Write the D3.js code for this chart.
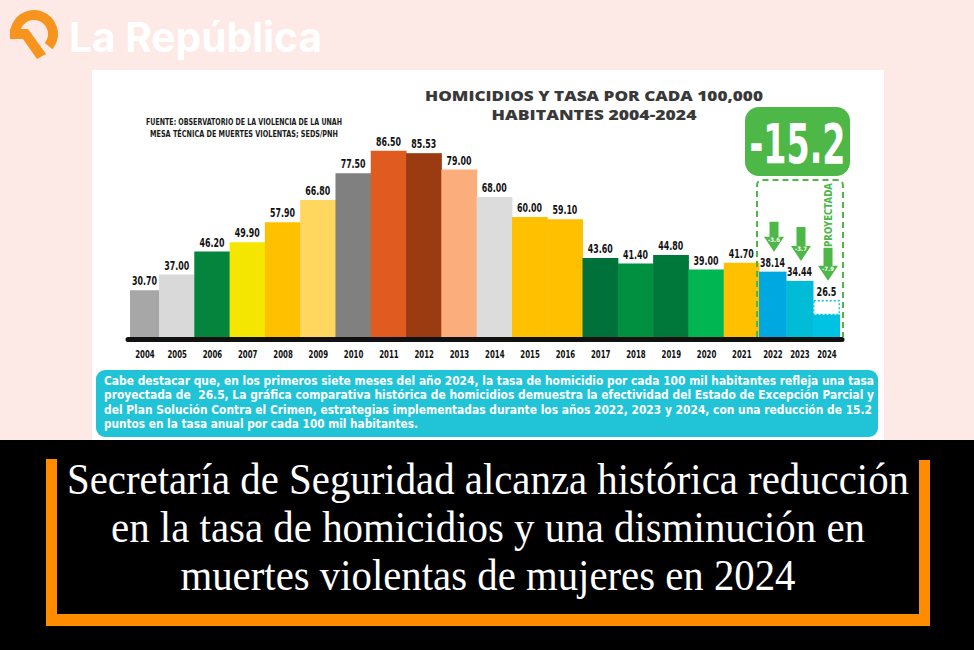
<!DOCTYPE html>
<html>
<head>
<meta charset="utf-8">
<script src="https://cdn.jsdelivr.net/npm/d3@7"></script>
<style>
  html, body { margin: 0; padding: 0; background: #000; }
  svg { display: block; }
  text.note { white-space: pre; }
</style>
</head>
<body>
<svg id="chart" width="974" height="650"></svg>
<script>
// ---------------- DATA ----------------
const years = ["2004","2005","2006","2007","2008","2009","2010","2011","2012","2013","2014","2015","2016","2017","2018","2019","2020","2021","2022","2023","2024"];
const rates = [30.70, 37.00, 46.20, 49.90, 57.90, 66.80, 77.50, 86.50, 85.53, 79.00, 68.00, 60.00, 59.10, 43.60, 41.40, 44.80, 39.00, 41.70, 38.14, 34.44, 26.5];
const rateLabels = ["30.70","37.00","46.20","49.90","57.90","66.80","77.50","86.50","85.53","79.00","68.00","60.00","59.10","43.60","41.40","44.80","39.00","41.70","38.14","34.44","26.5"];
const projectedYear = "2024";
const partialProjected = 21.0;
const dropYears = ["2022","2023","2024"];
const dropLabels = ["-3.6","-3.7","-7.9"];
const totalDrop = "-15.2";
const projectedText = "PROYECTADA";

const titleLines = ["HOMICIDIOS Y TASA POR CADA 100,000", "HABITANTES 2004-2024"];
const sourceLines = ["FUENTE: OBSERVATORIO DE LA VIOLENCIA DE LA UNAH", "MESA TÉCNICA DE MUERTES VIOLENTAS; SEDS/PNH"];
const noteLines = [
  "Cabe destacar que, en los primeros siete meses del año 2024, la tasa de homicidio por cada 100 mil habitantes refleja una tasa",
  "proyectada de  26.5, La gráfica comparativa histórica de homicidios demuestra la efectividad del Estado de Excepción Parcial y",
  "del Plan Solución Contra el Crimen, estrategias implementadas durante los años 2022, 2023 y 2024, con una reducción de 15.2",
  "puntos en la tasa anual por cada 100 mil habitantes."
];
const headlineLines = [
  "Secretaría de Seguridad alcanza histórica reducción",
  "en la tasa de homicidios y una disminución en",
  "muertes violentas de mujeres en 2024"
];
const brandName = "La República";

// ---------------- STYLE ----------------
const barColors = ["#a7a7a7","#d9d9d9","#05843d","#f4e600","#ffc000","#ffd65e","#808080","#e05b1f","#9b3b12","#fbad7c","#dcdcdc","#ffc000","#ffc000","#00713b","#00903f","#00783a","#00b653","#ffc000","#00a8e1","#00bcd6","#00c2e2"];
const narrow = "'Liberation Sans Narrow','DejaVu Sans Condensed','Roboto Condensed','Arial Narrow',sans-serif";
const green = "#4db848";

const svg = d3.select("#chart");

// squeeze a text horizontally (centered at cx, baseline cy) to a given width
function fitText(sel, width) {
  sel.each(function(d) {
    const t = d3.select(this);
    const cx = +t.attr("data-cx"), cy = +t.attr("data-cy");
    const w = this.getComputedTextLength() || width;
    const w2 = typeof width === "function" ? width(d) : width;
    t.attr("x",0).attr("y",0).attr("transform",`translate(${cx},${cy}) scale(${w2/w},1)`);
  });
}

// backgrounds
svg.append("rect").attr("x",0).attr("y",0).attr("width",974).attr("height",440).attr("fill","#fde9e6");
svg.append("rect").attr("x",92).attr("y",70).attr("width",792).attr("height",370).attr("fill","#ffffff");
svg.append("rect").attr("x",0).attr("y",440).attr("width",974).attr("height",210).attr("fill","#000000");

// logo
const logo = svg.append("g").attr("transform","translate(34,34)");
const ringArc = d3.arc().innerRadius(14).outerRadius(24).startAngle(-Math.PI*0.5).endAngle(Math.PI*0.72);
logo.append("path").attr("d", ringArc()).attr("fill","#f7941d");
logo.append("path").attr("d","M-24,-5 L-6,-5 L12,20 L3,25 L-11,5 L-24,5 Z").attr("fill","#f7941d");
svg.append("text").attr("x",69).attr("y",52).text(brandName)
  .attr("font-family","Inter, Roboto, sans-serif").attr("font-weight",700).attr("font-size",41)
  .attr("textLength",253).attr("lengthAdjust","spacingAndGlyphs").attr("fill","#ffffff");

// title
svg.selectAll("text.title").data(titleLines).join("text").attr("class","title")
  .attr("x",594).attr("y",(d,i)=>100.5 + i*19).attr("text-anchor","middle")
  .attr("font-family","'Open Sans', Lato, sans-serif").attr("font-weight",800).attr("font-size",13.5)
  .attr("textLength",(d,i)=> i===0 ? 338 : 205).attr("lengthAdjust","spacingAndGlyphs")
  .attr("fill","#393939").text(d=>d);

// source
svg.selectAll("text.source").data(sourceLines).join("text").attr("class","source")
  .attr("x",244).attr("y",(d,i)=>125 + i*11.5).attr("text-anchor","middle")
  .attr("font-family",narrow).attr("font-weight",700).attr("font-size",8)
  .attr("textLength",(d,i)=> i===0 ? 196 : 188).attr("lengthAdjust","spacingAndGlyphs")
  .attr("fill","#1a1a1a").text(d=>d);

// scales: bar index -> x (first and last three bars are narrower in the original)
const n = years.length;
const x = d3.scaleLinear().domain([0, 1, 18, n]).range([130, 159, 759, 840]);
const bx = i => x(i), bwid = i => x(i+1) - x(i);
const y = d3.scaleLinear().domain([12, 100]).range([337, 117]);

const rows = years.map((yr,i)=>({i, year:yr, value:rates[i], label:rateLabels[i], color:barColors[i]}));
const rowOf = yr => rows.find(d=>d.year===yr);

// bars
const barsG = svg.append("g");
barsG.selectAll("rect.bar").data(rows.filter(d=>d.year!==projectedYear)).join("rect").attr("class","bar")
  .attr("x",d=>bx(d.i)).attr("width",d=>bwid(d.i)+0.5)
  .attr("y",d=>y(d.value)).attr("height",d=>y(12)-y(d.value))
  .attr("fill",d=>d.color);

// projected bar (2024)
const pRow = rowOf(projectedYear);
barsG.append("rect").attr("x",bx(pRow.i)).attr("width",bwid(pRow.i))
  .attr("y",y(partialProjected)).attr("height",y(12)-y(partialProjected)).attr("fill",pRow.color);
barsG.append("rect").attr("x",bx(pRow.i)+0.75).attr("width",bwid(pRow.i)-1.5)
  .attr("y",y(pRow.value)).attr("height",y(partialProjected)-y(pRow.value))
  .attr("fill","#ffffff").attr("stroke",pRow.color).attr("stroke-width",1.3).attr("stroke-dasharray","2,2");

// value labels
svg.selectAll("text.val").data(rows).join("text").attr("class","val")
  .attr("data-cx",d=>x(d.i+0.5)).attr("data-cy",d=>y(d.value)-5).attr("text-anchor","middle")
  .attr("font-family",narrow).attr("font-weight",700).attr("font-size",13)
  .attr("fill","#111").text(d=>d.label)
  .call(fitText, d=>d.label.length*5.0);

// x axis
const axisG = svg.append("g").attr("transform","translate(0,339.5)")
  .call(d3.axisBottom(x).tickValues(rows.map(d=>d.i+0.5)).tickFormat(v=>years[Math.floor(v)]).tickSize(0).tickPadding(0));
axisG.select(".domain").remove();
axisG.append("line").attr("x1",x(0)-2).attr("x2",x(n)+2).attr("y1",0).attr("y2",0)
  .attr("stroke","#111").attr("stroke-width",5).attr("stroke-linecap","round");
axisG.selectAll(".tick text").attr("y",18.5).attr("dy",0)
  .attr("font-family",narrow).attr("font-weight",700).attr("font-size",11)
  .attr("textLength",19.5).attr("lengthAdjust","spacingAndGlyphs").attr("fill","#111");

// projected dashed frame + badge
const fx0 = bx(rowOf(dropYears[0]).i) - 2, fx1 = x(n) + 3, fyTop = 180, fyBot = 337, rr = 6;
svg.append("path")
  .attr("d",`M${fx0},${fyBot} V${fyTop+rr} Q${fx0},${fyTop} ${fx0+rr},${fyTop} H${fx1-rr} Q${fx1},${fyTop} ${fx1},${fyTop+rr} V${fyBot}`)
  .attr("fill","none").attr("stroke",green).attr("stroke-width",2).attr("stroke-dasharray","6,4");

const bx0 = fx0 - 12, bx1 = fx1 + 7;
svg.append("rect").attr("x",bx0).attr("y",107).attr("width",bx1-bx0).attr("height",69).attr("rx",14).attr("fill",green);
svg.append("text").attr("x",(bx0+bx1)/2).attr("y",163).attr("text-anchor","middle")
  .attr("font-family",narrow).attr("font-weight",700).attr("font-size",56)
  .attr("textLength",96).attr("lengthAdjust","spacingAndGlyphs").attr("fill","#fff").text(totalDrop);

const pcx = x(pRow.i+0.5) + 1.5;
svg.append("text").attr("transform",`translate(${pcx+4},215) rotate(-90)`).attr("text-anchor","middle")
  .attr("font-family",narrow).attr("font-weight",700).attr("font-size",11)
  .attr("textLength",64).attr("lengthAdjust","spacingAndGlyphs").attr("fill",green).text(projectedText);

// drop arrows
const arrowLen = [30, 34, 33];
dropYears.forEach((yr,k)=>{
  const row = rowOf(yr);
  const cx = x(row.i+0.5) + 1.5;
  const tip = y(row.value) - 5 - 15;
  const top = tip - arrowLen[k];
  const hh = 15, sw = 4.5, hw = 10;
  svg.append("path")
    .attr("d",`M${cx-sw},${top} H${cx+sw} V${tip-hh} H${cx+hw} L${cx},${tip} L${cx-hw},${tip-hh} H${cx-sw} Z`)
    .attr("fill",green);
  svg.append("text").attr("x",cx).attr("y",tip-hh+5.5).attr("text-anchor","middle")
    .attr("font-family",narrow).attr("font-weight",700).attr("font-size",6)
    .attr("fill","#fff").text(dropLabels[k]);
});

// note box
svg.append("rect").attr("x",96).attr("y",370).attr("width",782).attr("height",67).attr("rx",9).attr("fill","#21c3d7");
svg.selectAll("text.note").data(noteLines).join("text").attr("class","note")
  .attr("x",104).attr("y",(d,i)=>385 + i*14.3)
  .attr("font-family",narrow).attr("font-weight",700).attr("font-size",12)
  .attr("textLength",(d,i)=>[770,770,768,314][i]).attr("lengthAdjust","spacingAndGlyphs")
  .attr("fill","#ffffff").text(d=>d);

// headline frame
const orange = "#ff8c00";
svg.append("rect").attr("x",46).attr("y",459).attr("width",11).attr("height",167).attr("fill",orange);
svg.append("rect").attr("x",919).attr("y",460).attr("width",11).attr("height",166).attr("fill",orange);
svg.append("rect").attr("x",46).attr("y",614).attr("width",884).attr("height",12).attr("fill",orange);
svg.append("rect").attr("x",57).attr("y",459).attr("width",862).attr("height",155).attr("fill","#000");

svg.selectAll("text.head").data(headlineLines).join("text").attr("class","head")
  .attr("x",488).attr("y",(d,i)=>494 + i*48).attr("text-anchor","middle")
  .attr("font-family","'Liberation Serif','DejaVu Serif',serif").attr("font-size",44)
  .attr("textLength",(d,i)=>[842,754,615][i]).attr("lengthAdjust","spacingAndGlyphs")
  .attr("fill","#ffffff").text(d=>d);
</script>
</body>
</html>
